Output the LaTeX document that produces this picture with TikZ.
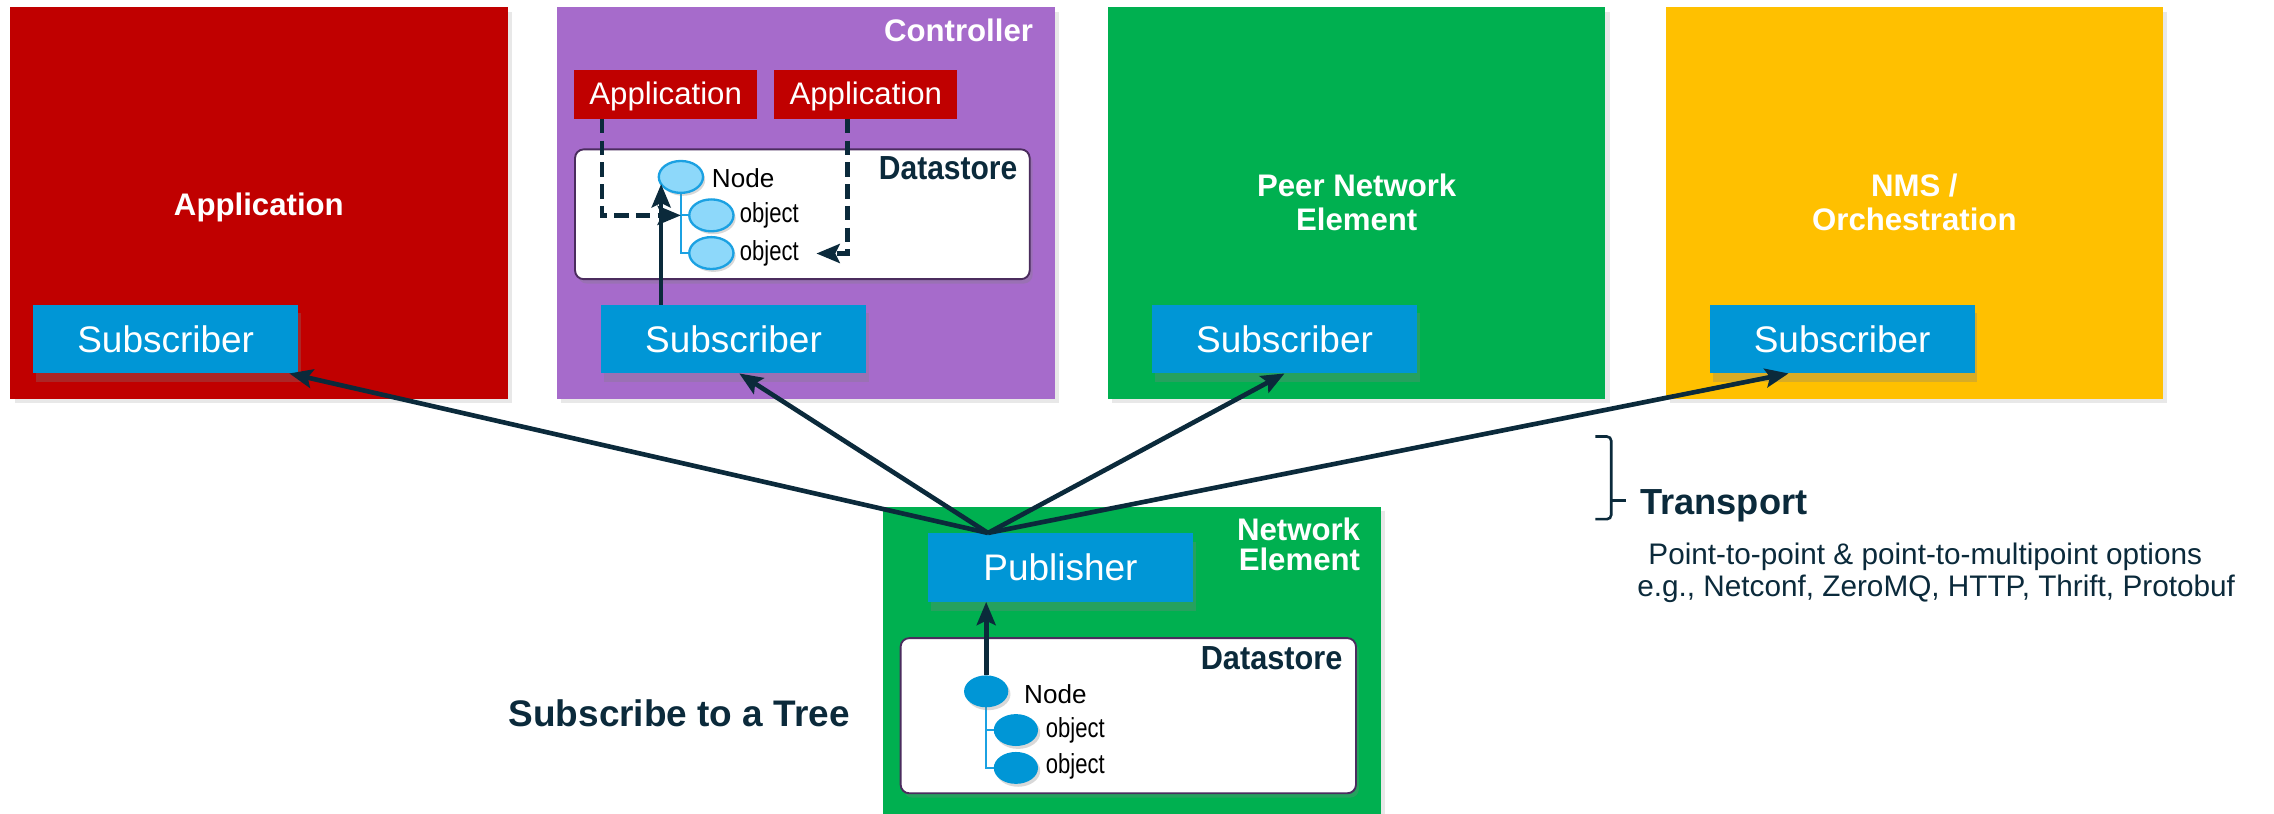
\documentclass[tikz,border=0pt]{standalone}
\usepackage{fontspec}
\setmainfont{Liberation Sans}
\usetikzlibrary{arrows.meta,shadows,shapes.geometric,calc}

\definecolor{appred}{HTML}{C00000}
\definecolor{ctlpurple}{HTML}{A66BCB}
\definecolor{negreen}{HTML}{00B050}
\definecolor{nmsyellow}{HTML}{FFC000}
\definecolor{subblue}{HTML}{0096D6}
\definecolor{navy}{HTML}{0B2A3B}
\definecolor{leaflight}{HTML}{8DD8FA}
\definecolor{leafedge}{HTML}{1BA1E2}
\definecolor{dsedge}{HTML}{4B2C5E}

\begin{document}
\begin{tikzpicture}[x=1pt,y=-1pt,
  panel/.style={rectangle,inner sep=0pt,outer sep=0pt,anchor=north west,
    minimum width=343pt,minimum height=270pt,
    drop shadow={shadow xshift=3pt,shadow yshift=-3pt,opacity=0.18}},
  subbox/.style={rectangle,fill=subblue,text=white,inner sep=0pt,outer sep=0pt,
    minimum width=182.5pt,minimum height=47.5pt,anchor=north west,
    font=\fontsize{25.5}{26}\selectfont,
    drop shadow={shadow xshift=2pt,shadow yshift=-6pt,opacity=0.3}},
  paneltitle/.style={text=white,inner sep=0pt,align=center,
    font=\fontsize{21.5}{23}\selectfont\bfseries},
  appbox/.style={rectangle,fill=appred,text=white,inner sep=0pt,outer sep=0pt,
    minimum width=126pt,minimum height=34pt,anchor=north west,
    text height=15.5pt,text depth=1pt,
    font=\fontsize{21.5}{22}\selectfont},
  store/.style={rectangle,rounded corners=6pt,fill=white,draw=dsedge,line width=1.3pt,
    anchor=north west,inner sep=0pt,outer sep=0pt,minimum width=314pt,
    drop shadow={shadow xshift=2pt,shadow yshift=-3pt,opacity=0.3}},
  storetitle/.style={text=navy,inner sep=0pt,anchor=east,
    font=\fontsize{23}{24}\selectfont\bfseries},
  leaf/.style={ellipse,inner sep=0pt,outer sep=0pt,minimum width=30.5pt,minimum height=22pt},
  lightleaf/.style={leaf,fill=leaflight,draw=leafedge,line width=1.6pt,
    drop shadow={shadow xshift=1.5pt,shadow yshift=-2pt,opacity=0.3}},
  darkleaf/.style={leaf,fill=subblue,
    drop shadow={shadow xshift=1.5pt,shadow yshift=-2pt,opacity=0.3}},
  nodetext/.style={inner sep=0pt,anchor=west,font=\fontsize{18}{18}\selectfont},
  objtext/.style={inner sep=0pt,anchor=west,font=\fontsize{19}{19}\selectfont},
  treeline/.style={draw=leafedge,line width=1.3pt},
  conn/.style={draw=navy,line width=3.2pt,-{Stealth[length=16pt,width=13pt,inset=3pt]}},
  dashconn/.style={conn,dash pattern=on 10pt off 5pt},
  caption/.style={text=navy,inner sep=0pt,anchor=base west,
    font=\fontsize{25}{26}\selectfont\bfseries},
  note/.style={text=navy,inner sep=0pt,anchor=base,font=\fontsize{20.5}{22}\selectfont}
]
\clip (0,0) rectangle (1568,561);
\fill[white] (0,0) rectangle (1568,561);

% ---- the four subscriber panels ----
\node[panel,fill=appred] (apppanel) at (7,5) {};
\node[panel,fill=ctlpurple,minimum width=343.5pt] (ctlpanel) at (384,5) {};
\node[panel,fill=negreen] (peerpanel) at (764,5) {};
\node[panel,fill=nmsyellow] (nmspanel) at (1148.5,5) {};

\node[paneltitle,anchor=base] (apptitle) at (178.5,148.5) {Application};
\node[paneltitle,anchor=east] (ctltitle) at (712.5,21) {Controller};
\node[paneltitle] (peertitle) at (935.5,139.5) {Peer Network\\Element};
\node[paneltitle] (nmstitle) at (1320,139.5) {NMS /\\Orchestration};

\node[subbox] (sub1) at (23,210) {Subscriber};
\node[subbox] (sub2) at (414.5,210) {Subscriber};
\node[subbox] (sub3) at (794.5,210) {Subscriber};
\node[subbox] (sub4) at (1179,210) {Subscriber};

% ---- controller internals ----
\node[appbox] (app1) at (396,48) {Application};
\node[appbox] (app2) at (534,48) {Application};
\node[store,minimum height=89.5pt,minimum width=313.5pt] (ctlstore) at (396.5,103) {};
\node[storetitle] (ctlds) at (701.7,116) {\scalebox{0.9}[1]{Datastore}};

\node[leaf] (ctlnode) at (469.5,122) {};
\node[leaf] (ctlobj1) at (490.5,148.5) {};
\node[leaf] (ctlobj2) at (490.5,174.5) {};
\coordinate (ctlbr) at (ctlnode.south |- ctlobj1.west);
\draw[treeline] (ctlnode.south) |- (ctlobj2.west);
\draw[treeline] (ctlbr) -- (ctlobj1.west);
\node[lightleaf] at (ctlnode) {};
\node[lightleaf] at (ctlobj1) {};
\node[lightleaf] at (ctlobj2) {};
\node[nodetext] (ctlnodet) at (490.7,123) {Node};
\node[objtext] (ctlot1) at (510,148.5) {\scalebox{0.8}[1]{object}};
\node[objtext] (ctlot2) at (510,174.8) {\scalebox{0.8}[1]{object}};

\draw[dashconn] ([xshift=19pt]app1.south west) |- (ctlbr);
\draw[dashconn] ([xshift=-12.5pt]app2.south) |- ([xshift=12pt]ctlot2.east);
\draw[conn] (ctlnode.200 |- sub2.north) -- (ctlnode.200);

% ---- publishing network element ----
\node[panel,fill=negreen,minimum height=220pt] (nepanel) at (609,349.5) {};
\node[paneltitle,align=right,anchor=east,font=\fontsize{21.5}{21}\selectfont\bfseries]
  (netitle) at (938,375.5) {Network\\Element};
\node[subbox] (pub) at (640,367.5) {Publisher};
\node[store,minimum height=107pt] (nestore) at (621,440) {};
\node[storetitle] (neds) at (925.8,453.8) {\scalebox{0.92}[1]{Datastore}};

\node[leaf] (nenode) at (680,476.7) {};
\node[leaf] (neobj1) at (700.5,503.4) {};
\node[leaf] (neobj2) at (700.5,529.5) {};
\draw[treeline] (nenode.south) |- (neobj2.west);
\draw[treeline] (nenode.south |- neobj1.west) -- (neobj1.west);
\node[darkleaf] at (nenode) {};
\node[darkleaf] at (neobj1) {};
\node[darkleaf] at (neobj2) {};
\node[nodetext] (nenodet) at (706,478.6) {Node};
\node[objtext] (neot1) at (721,503.4) {\scalebox{0.8}[1]{object}};
\node[objtext] (neot2) at (721,528.6) {\scalebox{0.8}[1]{object}};

\draw[conn] (nenode.north) -- (nenode.north |- pub.south);

% ---- transport links from the publisher ----
\coordinate (hub) at ([xshift=-50pt]pub.north);
\draw[conn] (hub) -- ([xshift=-6pt]sub1.south east);
\draw[conn] (hub) -- ([xshift=4pt]sub2.south);
\draw[conn] (hub) -- (sub3.south);
\draw[conn] (hub) -- ([xshift=-37pt]sub4.south);

% ---- transport brace and notes ----
\coordinate (brtop) at (1100,301);
\coordinate (brbot) at (1100,358);
\coordinate (brmid) at (1121.5,345);
\draw[navy,line width=1.8pt,rounded corners=3pt]
  (brtop) -- (1111,301) -- (1111,358) -- (brbot);
\draw[navy,line width=1.8pt] (1111,345) -- (brmid);
\node[caption] (transport) at (1130.8,355) {Transport};
\node[note] (note1) at (1327.5,389) {Point-to-point \& point-to-multipoint options};
\node[note] (note2) at (1335,411) {e.g., Netconf, ZeroMQ, HTTP, Thrift, Protobuf};

\node[caption,font=\fontsize{25.5}{26}\selectfont\bfseries] (subtree) at (350.5,501) {Subscribe to a Tree};
\end{tikzpicture}
\end{document}
